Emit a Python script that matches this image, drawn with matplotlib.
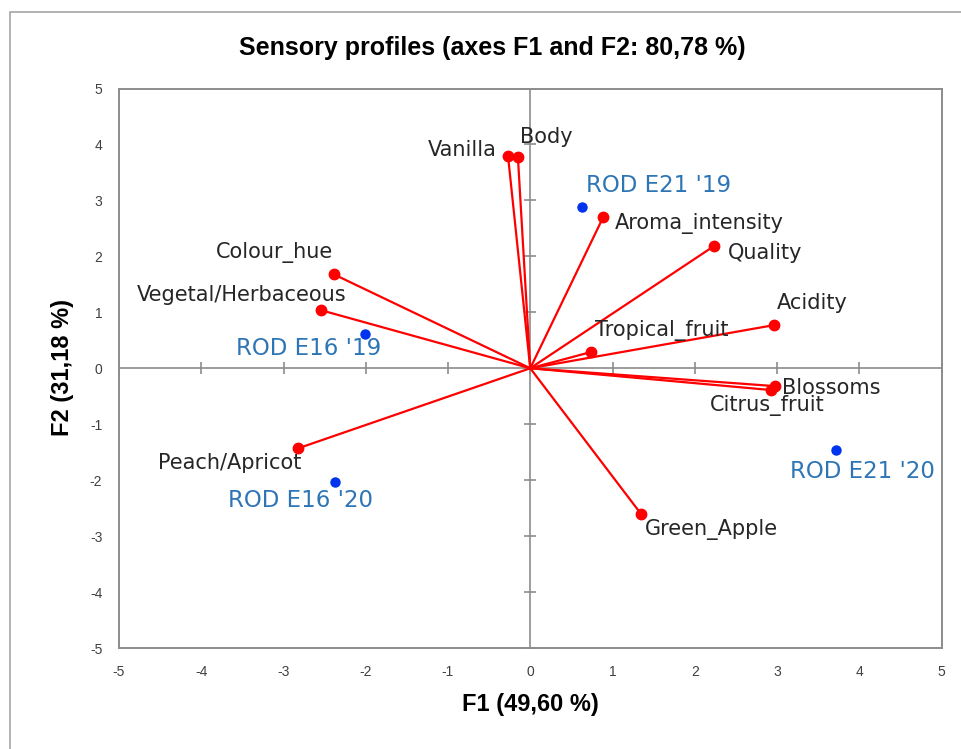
import matplotlib
matplotlib.use("Agg")
import matplotlib.pyplot as plt
from matplotlib.patches import Rectangle

plt.rcParams["axes.unicode_minus"] = False

# variables (red vectors)
var_names = ["Vanilla", "Body", "Aroma_intensity", "Quality", "Acidity", "Tropical_fruit",
             "Blossoms", "Citrus_fruit", "Green_Apple", "Peach/Apricot",
             "Vegetal/Herbaceous", "Colour_hue"]
var_f1 = [-0.27, -0.15, 0.89, 2.23, 2.96, 0.74, 2.98, 2.93, 1.35, -2.82, -2.55, -2.39]
var_f2 = [3.79, 3.77, 2.71, 2.18, 0.77, 0.29, -0.32, -0.39, -2.61, -1.43, 1.04, 1.68]

# observations (blue dots)
obs_names = ["ROD E21 '19", "ROD E16 '19", "ROD E16 '20", "ROD E21 '20"]
obs_f1 = [0.63, -2.01, -2.37, 3.72]
obs_f2 = [2.88, 0.61, -2.04, -1.46]

ticks = [-5, -4, -3, -2, -1, 0, 1, 2, 3, 4, 5]

# label placement: (dx px, dy px, ha)
var_offsets = [(-11, 6, "right"), (2, 20, "left"), (11, -7, "left"), (14, -7, "left"),
               (3, 22, "left"), (4, 22, "left"), (7, -2, "left"), (-4, -15, "center"),
               (4, -15, "left"), (3, -15, "right"), (26, 15, "right"), (-1, 22, "right")]
obs_offsets = [(4, 22, "left"), (16, -14, "right"), (-35, -18, "center"), (26, -22, "center")]

label_font = ["DejaVu Sans"]
title_font = ["Liberation Sans", "DejaVu Sans"]

fig = plt.figure(figsize=(9.61, 7.49), dpi=100)
ax = fig.add_axes([119 / 961, 1 - 648 / 749, (941.5 - 119) / 961, (648 - 88.5) / 749])

# outer chart frame
fig.patches.append(Rectangle((10 / 961, -0.1), 1.2, 1.1 - 11.7 / 749, transform=fig.transFigure,
                             fill=False, edgecolor="#a6a6a6", linewidth=1.2))

ax.set_xlim(-5, 5)
ax.set_ylim(-5, 5)
ax.set_xticks(ticks)
ax.set_yticks(ticks)
ax.tick_params(length=0, pad=12, labelsize=10, labelcolor="#404040")
for lab in ax.get_xticklabels() + ax.get_yticklabels():
    lab.set_family(title_font)
for s in ax.spines.values():
    s.set_color("#8c8c8c")
    s.set_linewidth(1.4)

# center axes with small tick marks
ax.axhline(0, color="#8c8c8c", lw=1.2, zorder=1)
ax.axvline(0, color="#8c8c8c", lw=1.2, zorder=1)
ax.plot(ticks, [0] * len(ticks), ls="none", marker="|", ms=8, mew=1.2, color="#8c8c8c", zorder=1)
ax.plot([0] * len(ticks), ticks, ls="none", marker="_", ms=8, mew=1.2, color="#8c8c8c", zorder=1)

for x, y in zip(var_f1, var_f2):
    ax.plot([0, x], [0, y], color="#ff0000", lw=1.6, zorder=2)
ax.plot(var_f1, var_f2, ls="none", marker="o", ms=7.5, color="#ff0000", zorder=3)
ax.plot(obs_f1, obs_f2, ls="none", marker="o", ms=6.5, color="#0033ee", zorder=3)

for name, x, y, (dx, dy, ha) in zip(var_names, var_f1, var_f2, var_offsets):
    ax.annotate(name, (x, y), xytext=(dx * 0.72, dy * 0.72), textcoords="offset points",
                ha=ha, va="center", fontsize=15, color="#262626", family=label_font)
for name, x, y, (dx, dy, ha) in zip(obs_names, obs_f1, obs_f2, obs_offsets):
    ax.annotate(name, (x, y), xytext=(dx * 0.72, dy * 0.72), textcoords="offset points",
                ha=ha, va="center", fontsize=16.5, color="#2e75b6", family=label_font)

fig.text(492 / 961, 1 - 48 / 749, "Sensory profiles (axes F1 and F2: 80,78 %)", ha="center",
         va="center", fontsize=18, fontweight="bold", family=title_font)
fig.text(530 / 961, 1 - 704 / 749, "F1 (49,60 %)", ha="center", va="center",
         fontsize=17, fontweight="bold", family=title_font)
fig.text(62 / 961, 1 - 368 / 749, "F2 (31,18 %)", ha="center", va="center", rotation=90,
         fontsize=17, fontweight="bold", family=title_font)

fig.savefig("out.png", dpi=100, facecolor="white")
